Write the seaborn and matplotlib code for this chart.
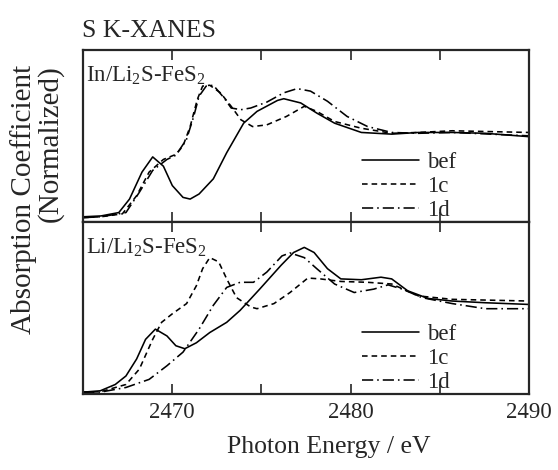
import numpy as np
import pandas as pd
import matplotlib.pyplot as plt
import seaborn as sns
from matplotlib.ticker import MultipleLocator, FuncFormatter

sns.set_style('ticks')
plt.rcParams['font.family'] = ['Liberation Serif', 'DejaVu Serif']
plt.rcParams['mathtext.fontset'] = 'custom'
plt.rcParams['mathtext.rm'] = 'Liberation Serif'
plt.rcParams['mathtext.default'] = 'regular'

# ---- In/Li2S-FeS2 (painel superior) ----
e_in_bef = [2465.0, 2466.0, 2467.0, 2467.6, 2468.3, 2468.9, 2469.5, 2470.0, 2470.6, 2471.0, 2471.5,
            2472.3, 2473.05, 2474.0, 2474.75, 2475.9, 2476.25, 2477.2, 2478.1, 2479.1, 2480.6,
            2482.3, 2483.8, 2485.7, 2487.55, 2490.0]
mu_in_bef = [0.0, 0.01, 0.05, 0.21, 0.53, 0.71, 0.60, 0.37, 0.23, 0.21, 0.27,
             0.45, 0.76, 1.11, 1.25, 1.38, 1.40, 1.35, 1.23, 1.11, 1.00,
             0.98, 1.00, 1.00, 0.99, 0.95]

e_in_1c = [2465.0, 2466.0, 2467.2, 2468.0, 2468.7, 2469.5, 2470.2, 2470.6, 2471.0, 2471.4, 2471.7,
           2472.1, 2472.7, 2473.3, 2473.85, 2474.5, 2475.3, 2476.4, 2477.4, 2478.1, 2479.1,
           2480.6, 2482.3, 2483.8, 2485.7, 2490.0]
mu_in_1c = [-0.01, 0.0, 0.035, 0.25, 0.53, 0.68, 0.74, 0.84, 1.07, 1.39, 1.55,
            1.56, 1.47, 1.31, 1.15, 1.07, 1.09, 1.19, 1.31, 1.25, 1.13,
            1.05, 0.99, 1.00, 1.02, 1.00]

e_in_1d = [2465.0, 2466.0, 2467.4, 2468.15, 2468.9, 2469.7, 2470.2, 2470.8, 2471.2, 2471.5, 2471.9,
           2472.3, 2472.9, 2473.3, 2473.85, 2474.4, 2475.3, 2476.25, 2477.0, 2477.75, 2478.7,
           2479.8, 2480.95, 2482.3, 2483.8, 2485.7, 2490.0]
mu_in_1d = [-0.01, 0.0, 0.05, 0.29, 0.55, 0.68, 0.73, 0.92, 1.19, 1.43, 1.55,
            1.56, 1.41, 1.29, 1.27, 1.29, 1.36, 1.47, 1.52, 1.49, 1.37,
            1.19, 1.07, 1.00, 0.99, 1.00, 0.96]

# ---- Li/Li2S-FeS2 (painel inferior) ----
e_li_bef = [2465.0, 2465.96, 2466.8, 2467.4, 2468.0, 2468.5, 2469.05, 2469.7, 2470.2, 2470.7, 2471.35,
            2472.1, 2473.05, 2473.8, 2474.9, 2476.1, 2476.8, 2477.4, 2477.95, 2478.7, 2479.45,
            2480.6, 2481.7, 2482.3, 2483.2, 2484.35, 2485.7, 2487.55, 2490.0]
mu_li_bef = [0.0, 0.016, 0.09, 0.19, 0.39, 0.62, 0.74, 0.66, 0.545, 0.51, 0.58,
             0.70, 0.82, 0.96, 1.21, 1.49, 1.64, 1.70, 1.64, 1.45, 1.33,
             1.32, 1.35, 1.33, 1.19, 1.10, 1.07, 1.05, 1.03]

e_li_1c = [2465.0, 2465.96, 2467.4, 2468.15, 2468.9, 2469.4, 2470.0, 2470.8, 2471.35, 2471.7, 2472.1,
           2472.6, 2473.05, 2473.6, 2474.4, 2474.75, 2475.7, 2476.6, 2477.6, 2478.3, 2479.45,
           2480.95, 2482.3, 2483.8, 2485.7, 2490.0]
mu_li_1c = [0.0, 0.004, 0.09, 0.27, 0.62, 0.82, 0.92, 1.04, 1.25, 1.45, 1.58,
            1.53, 1.33, 1.11, 1.00, 0.98, 1.04, 1.17, 1.34, 1.33, 1.30,
            1.29, 1.27, 1.13, 1.09, 1.07]

e_li_1d = [2465.0, 2465.96, 2467.4, 2468.7, 2469.7, 2470.6, 2471.5, 2472.3, 2473.05, 2473.8, 2474.55,
           2475.3, 2476.15, 2476.6, 2477.4, 2478.1, 2479.1, 2480.2, 2481.3, 2482.1, 2482.9,
           2484.0, 2485.7, 2487.55, 2490.0]
mu_li_1d = [0.0, 0.0, 0.055, 0.15, 0.31, 0.47, 0.74, 1.02, 1.23, 1.29, 1.29,
            1.41, 1.60, 1.635, 1.58, 1.45, 1.27, 1.17, 1.21, 1.26, 1.21,
            1.11, 1.04, 0.98, 0.98]

amostras = ['bef', '1c', '1d']
paineis = {
    r'In/Li$_2$S-FeS$_2$': [(e_in_bef, mu_in_bef), (e_in_1c, mu_in_1c), (e_in_1d, mu_in_1d)],
    r'Li/Li$_2$S-FeS$_2$': [(e_li_bef, mu_li_bef), (e_li_1c, mu_li_1c), (e_li_1d, mu_li_1d)],
}
limites_y = [(-0.06, 1.98), (-0.02, 2.0)]

tracos = {'bef': '', '1c': (3.5, 2.5), '1d': (7, 2.5, 1, 2.5)}

fig, axes = plt.subplots(2, 1, figsize=(5.58, 4.70), dpi=100, sharex=True)
fig.subplots_adjust(left=0.149, right=0.948, top=0.894, bottom=0.162, hspace=0)

for ax, (nome, curvas), ylim in zip(axes, paineis.items(), limites_y):
    df = pd.concat([pd.DataFrame({'E': e, 'mu': mu, 'amostra': a})
                    for a, (e, mu) in zip(amostras, curvas)], ignore_index=True)
    sns.lineplot(data=df, x='E', y='mu', style='amostra', style_order=amostras,
                 dashes=tracos, color='black', linewidth=1.15, sort=False,
                 errorbar=None, ax=ax)
    ax.set_xlim(2465, 2490)
    ax.set_ylim(*ylim)
    ax.set_yticks([])
    ax.set_xlabel('')
    ax.set_ylabel('')
    for s in ax.spines.values():
        s.set_linewidth(1.6)
    ax.xaxis.set_major_locator(MultipleLocator(10))
    ax.xaxis.set_minor_locator(MultipleLocator(5))
    ax.tick_params(axis='x', which='both', direction='in', top=True, bottom=True,
                   length=7, width=1.2, labelsize=16.5, pad=6)
    ax.xaxis.set_major_formatter(FuncFormatter(lambda v, p: f'{v:.0f}'))
    ax.text(0.006, 0.915, nome, transform=ax.transAxes, ha='left', va='top', fontsize=16.5)

    handles, labels = ax.get_legend_handles_labels()
    hs = [h for h, l in zip(handles, labels) if l in amostras]
    ax.legend(hs, amostras, loc='lower right', bbox_to_anchor=(0.84, 0.0), frameon=False,
              fontsize=16.5, handlelength=2.5, handletextpad=0.35, labelspacing=0.12,
              borderpad=0.05, borderaxespad=0)

axes[0].tick_params(axis='x', labelbottom=False)

fig.text(0.147, 0.921, 'S K-XANES', ha='left', va='baseline', fontsize=18.5)
fig.text(0.066, 0.862, 'Absorption Coefficient\n(Normalized)', rotation=90,
         ha='center', va='top', multialignment='right', fontsize=21, linespacing=0.95)
fig.text(0.59, 0.036, 'Photon Energy / eV', ha='center', va='baseline', fontsize=18.5)

fig.savefig('out.png', dpi=100)
